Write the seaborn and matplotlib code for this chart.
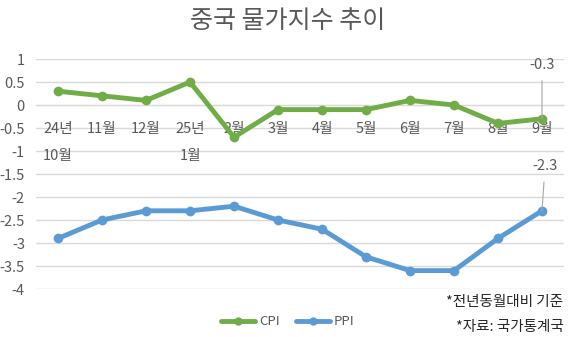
import matplotlib
matplotlib.use("Agg")
import matplotlib.pyplot as plt
import seaborn as sns
import pandas as pd

months = ["24년\n10월", "11월", "12월", "25년\n1월", "2월", "3월", "4월", "5월", "6월", "7월", "8월", "9월"]
cpi = [0.3, 0.2, 0.1, 0.5, -0.7, -0.1, -0.1, -0.1, 0.1, 0.0, -0.4, -0.3]
ppi = [-2.9, -2.5, -2.3, -2.3, -2.2, -2.5, -2.7, -3.3, -3.6, -3.6, -2.9, -2.3]
yticks = [1, 0.5, 0, -0.5, -1, -1.5, -2, -2.5, -3, -3.5, -4]

sns.set_style("white")
plt.rcParams['font.family'] = ['Noto Sans CJK KR', 'DejaVu Sans']

green = "#70AD47"
blue = "#5B9BD5"
gray = "#595959"

df = pd.DataFrame({"idx": list(range(len(months))) * 2,
                   "value": cpi + ppi,
                   "series": ["CPI"] * len(cpi) + ["PPI"] * len(ppi)})

fig = plt.figure(figsize=(5.72, 3.37), dpi=100)
ax = fig.add_axes([0.063, 0.1424, 0.923, 0.6825])

ax.grid(axis="y", color="#D9D9D9", linewidth=1)
ax.set_axisbelow(True)

# category labels (Excel style: just below the zero axis, drawn under the lines)
for i, m in enumerate(months):
    ax.annotate(m, xy=(i, 0), xytext=(0, -12), textcoords="offset points",
                ha="center", va="top", fontsize=10.5, color=gray, linespacing=2.2,
                zorder=1)

sns.lineplot(data=df, x="idx", y="value", hue="series", palette=[green, blue],
             marker="o", markersize=7, markeredgewidth=0, linewidth=3.5,
             ax=ax, legend=False, zorder=3)

ax.set_xlim(-0.5, len(months) - 0.5)
ax.set_ylim(-4, 1)
ax.set_yticks(yticks)
ax.set_yticklabels([f"{v:g}" for v in yticks], color=gray, fontsize=10.5)
ax.set_xticks(range(len(months)))
ax.set_xticklabels([])
ax.tick_params(axis="x", length=0)
ax.tick_params(axis="y", length=0, pad=8)
for s in ["top", "left", "right"]:
    ax.spines[s].set_visible(False)
ax.spines["bottom"].set_position(("data", 0))
ax.spines["bottom"].set_color("#D9D9D9")
ax.set_xlabel("")
ax.set_ylabel("")

# data labels for last points
last = len(months) - 1
ax.annotate(f"{cpi[-1]:g}", xy=(last, cpi[-1]), xytext=(last, cpi[-1] + 1.17),
            ha="center", va="center", fontsize=10.5, color=gray,
            arrowprops=dict(arrowstyle="-", color="#A6A6A6", lw=0.8, shrinkA=4, shrinkB=0))
ax.annotate(f"{ppi[-1]:g}", xy=(last, ppi[-1]), xytext=(last + 0.07, ppi[-1] + 0.97),
            ha="center", va="center", fontsize=10.5, color=gray,
            arrowprops=dict(arrowstyle="-", color="#A6A6A6", lw=0.8, shrinkA=4, shrinkB=0))

fig.suptitle("중국 물가지수 추이", x=0.503, y=0.975, fontsize=18, color=gray)

from matplotlib.lines import Line2D
handles = [Line2D([], [], color=green, lw=3.5, marker="o", markersize=6, markeredgewidth=0),
           Line2D([], [], color=blue, lw=3.5, marker="o", markersize=6, markeredgewidth=0)]
fig.legend(handles, ["CPI", "PPI"], loc="center", bbox_to_anchor=(0.503, 0.045), ncol=2,
           frameon=False, fontsize=9.5, labelcolor=gray, handlelength=2.6,
           handletextpad=0.3, columnspacing=1.2)

fig.text(0.985, 1 - 302 / 337, "*전년동월대비 기준", ha="right", va="center", fontsize=10.5, color="#262626")
fig.text(0.985, 1 - 327 / 337, "*자료: 국가통계국", ha="right", va="center", fontsize=10.5, color="#262626")

fig.savefig("out.png", dpi=100, facecolor="white")
